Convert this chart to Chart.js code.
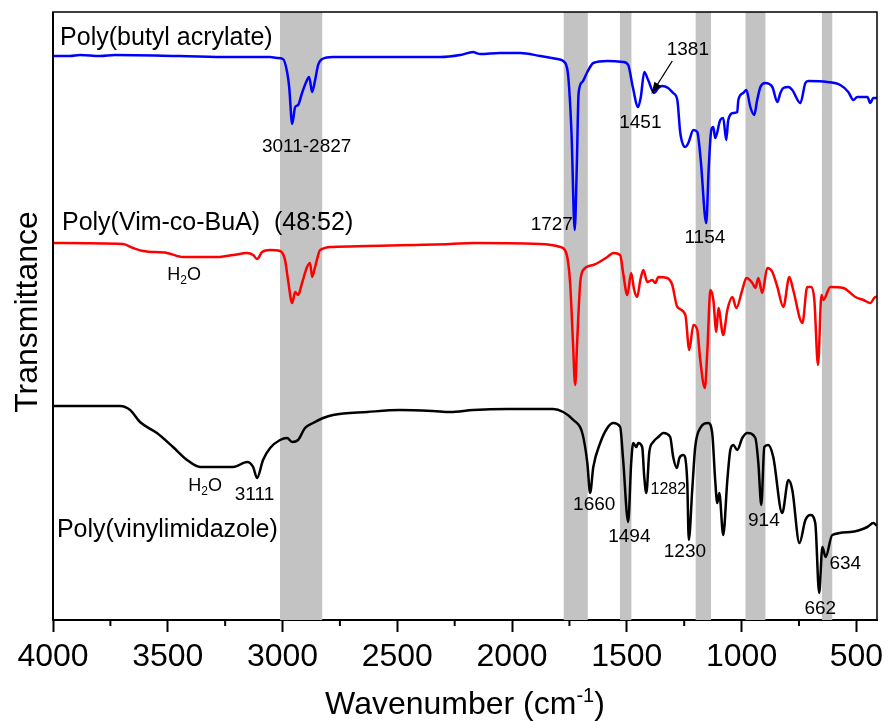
<!DOCTYPE html>
<html>
<head>
<meta charset="utf-8">
<title>FTIR</title>
<script src="https://cdn.jsdelivr.net/npm/chart.js@4.4.1/dist/chart.umd.min.js"></script>
<style>
  html, body { margin: 0; padding: 0; background: #fff; }
  canvas { display: block; }
</style>
</head>
<body>
<canvas id="chartFtir" width="888" height="721"></canvas>
<script>
// Número de onda (cm-1) e transmitância (unid. arbitrárias, curvas já deslocadas)
var pbaWn = [4000, 3926, 3882, 3795, 3730, 3446, 3229, 3054, 3024, 2998,
    2980, 2971, 2958, 2945, 2932, 2915, 2897, 2884, 2871, 2858,
    2845, 2827, 2780, 2631, 2444, 2313, 2226, 2169, 2156, 2139,
    2052, 1965, 1877, 1803, 1768, 1755, 1741, 1727, 1718, 1710,
    1694, 1672, 1646, 1585, 1516, 1494, 1474, 1451, 1439, 1424,
    1407, 1381, 1363, 1346, 1320, 1298, 1280, 1267, 1245, 1232,
    1210, 1193, 1178, 1154, 1143, 1132, 1123, 1115, 1093, 1080,
    1067, 1058, 1036, 1019, 1014, 993, 979, 962, 945, 932,
    918, 897, 866, 844, 831, 818, 796, 779, 744, 722,
    709, 626, 570, 535, 513, 496, 452, 439, 426, 410];
var pbaT = [564, 564, 565, 564, 565, 564, 563, 563, 562, 561,
    548, 533, 496, 513, 515, 527, 538, 543, 528, 540,
    555, 561, 563, 563, 563, 563, 565, 568, 567, 566,
    567, 567, 564, 561, 557, 543, 487, 390, 453, 527,
    538, 548, 557, 559, 558, 555, 533, 513, 523, 548,
    540, 527, 532, 534, 532, 527, 520, 487, 473, 477,
    490, 488, 460, 397, 453, 490, 493, 482, 500, 502,
    480, 500, 507, 508, 520, 527, 530, 513, 505, 520,
    533, 537, 533, 518, 527, 532, 533, 530, 517, 537,
    539, 538, 535, 528, 520, 523, 523, 517, 522, 522];

var copoWn = [4000, 3695, 3651, 3608, 3503, 3433, 3359, 3285, 3215, 3154,
    3128, 3111, 3089, 3054, 3011, 2989, 2976, 2958, 2945, 2932,
    2915, 2893, 2880, 2871, 2858, 2836, 2780, 2631, 2270, 2169,
    1877, 1790, 1764, 1747, 1735, 1725, 1716, 1703, 1690, 1646,
    1585, 1559, 1529, 1516, 1498, 1481, 1468, 1455, 1441, 1428,
    1411, 1389, 1376, 1363, 1324, 1302, 1280, 1245, 1228, 1210,
    1193, 1180, 1160, 1149, 1136, 1123, 1110, 1101, 1080, 1062,
    1040, 1023, 997, 979, 953, 940, 927, 910, 888, 866,
    844, 818, 792, 775, 735, 714, 696, 683, 667, 652,
    644, 613, 557, 504, 469, 439, 417, 410];
var copoT = [377, 376, 372, 369, 367, 363, 363, 363, 365, 367,
    365, 361, 368, 370, 369, 360, 340, 317, 328, 325,
    337, 353, 357, 343, 353, 370, 373, 374, 376, 377,
    376, 373, 367, 337, 280, 235, 280, 337, 350, 355,
    363, 367, 365, 347, 325, 347, 330, 323, 340, 350,
    338, 340, 337, 343, 342, 335, 313, 305, 270, 295,
    290, 260, 232, 270, 330, 320, 288, 312, 285, 310,
    323, 312, 330, 342, 337, 332, 342, 327, 352, 348,
    333, 313, 343, 330, 297, 333, 333, 320, 255, 325,
    320, 333, 332, 323, 320, 317, 323, 323];

var pviWn = [4000, 3708, 3664, 3621, 3547, 3477, 3416, 3359, 3215, 3154,
    3128, 3111, 3085, 3054, 3011, 2980, 2958, 2932, 2902, 2867,
    2823, 2780, 2631, 2488, 2344, 2270, 2169, 2021, 1821, 1777,
    1733, 1694, 1672, 1660, 1646, 1616, 1585, 1559, 1529, 1516,
    1494, 1481, 1472, 1459, 1450, 1433, 1424, 1415, 1402, 1385,
    1363, 1341, 1311, 1298, 1282, 1271, 1254, 1237, 1230, 1215,
    1202, 1180, 1145, 1128, 1115, 1106, 1097, 1080, 1062, 1049,
    1036, 1019, 997, 975, 940, 927, 914, 901, 884, 862,
    823, 796, 779, 748, 722, 700, 679, 662, 648, 634,
    605, 526, 452, 426, 410];
var pviT = [214, 214, 210, 198, 187, 173, 160, 153, 153, 158,
    153, 142, 160, 172, 180, 182, 178, 180, 192, 197,
    202, 205, 208, 210, 209, 208, 210, 211, 211, 208,
    200, 187, 157, 127, 153, 177, 192, 197, 193, 160,
    98, 157, 177, 173, 177, 173, 143, 127, 168, 178,
    183, 187, 183, 163, 152, 162, 165, 140, 80, 130,
    173, 192, 197, 187, 140, 117, 127, 85, 140, 170,
    175, 170, 182, 187, 182, 157, 115, 173, 175, 163,
    107, 140, 130, 77, 100, 105, 97, 27, 73, 63,
    85, 88, 93, 97, 94];

// faixas cinzas (cm-1)
var faixas = [[3011, 2827], [1775, 1670], [1530, 1480], [1200, 1133], [983, 896], [650, 605]];

// nomes das amostras e rótulos dos picos
var amostras = [
    { txt: 'Poly(butyl acrylate)', wn: 3969, t: 582 },
    { txt: 'Poly(Vim-co-BuA)  (48:52)', wn: 3961, t: 397 },
    { txt: 'Poly(vinylimidazole)', wn: 3983, t: 90 }
];
var picos = [
    { txt: '3011-2827', wn: 2895, t: 473, tam: 19 },
    { txt: '1727', wn: 1827, t: 395, tam: 19 },
    { txt: '1451', wn: 1441, t: 497, tam: 19 },
    { txt: '1381', wn: 1234, t: 570, tam: 19 },
    { txt: '1154', wn: 1160, t: 382, tam: 19 },
    { txt: '3111', wn: 3122, t: 125, tam: 19 },
    { txt: '1660', wn: 1642, t: 115, tam: 19 },
    { txt: '1494', wn: 1489, t: 83, tam: 19 },
    { txt: '1282', wn: 1319, t: 130, tam: 16 },
    { txt: '1230', wn: 1247, t: 68, tam: 19 },
    { txt: '914', wn: 903, t: 99, tam: 19 },
    { txt: '634', wn: 548, t: 56, tam: 19 },
    { txt: '662', wn: 657, t: 11, tam: 19 }
];
var aguas = [{ wn: 3429, t: 346 }, { wn: 3337, t: 135 }];
var seta1381 = { de: [1302, 559], para: [1393, 526] };

var FONTE = '"Liberation Sans", Arial, sans-serif';

function pontos(wn, t) {
    var out = [];
    for (var i = 0; i < wn.length; i++) out.push({ x: wn[i], y: t[i] });
    return out;
}

function serie(wn, t, cor) {
    return {
        data: pontos(wn, t),
        borderColor: cor,
        borderWidth: 2.5,
        pointRadius: 0,
        fill: false,
        cubicInterpolationMode: 'monotone'
    };
}

function escreveH2O(ctx, x, y) {
    ctx.font = '18px ' + FONTE;
    var wH = ctx.measureText('H').width, wO = ctx.measureText('O').width;
    ctx.font = '12px ' + FONTE;
    var w2 = ctx.measureText('2').width;
    var x0 = x - (wH + w2 + wO) / 2;
    ctx.textAlign = 'left';
    ctx.textBaseline = 'alphabetic';
    ctx.font = '18px ' + FONTE;
    ctx.fillText('H', x0, y + 6);
    ctx.font = '12px ' + FONTE;
    ctx.fillText('2', x0 + wH, y + 10);
    ctx.font = '18px ' + FONTE;
    ctx.fillText('O', x0 + wH + w2, y + 6);
}

// faixas atrás das curvas
var pluginFaixas = {
    id: 'faixas',
    beforeDatasetsDraw: function (chart) {
        var ctx = chart.ctx, a = chart.chartArea, sx = chart.scales.x;
        ctx.save();
        ctx.fillStyle = '#c3c3c3';
        faixas.forEach(function (f) {
            var x1 = sx.getPixelForValue(f[0]), x2 = sx.getPixelForValue(f[1]);
            ctx.fillRect(x1, a.top, x2 - x1, a.bottom - a.top);
        });
        ctx.restore();
    }
};

// moldura, ticks menores, títulos e rótulos
var pluginTextos = {
    id: 'textos',
    afterDraw: function (chart) {
        var ctx = chart.ctx, a = chart.chartArea, sx = chart.scales.x, sy = chart.scales.y;
        ctx.save();
        ctx.strokeStyle = '#000';
        ctx.lineWidth = 1.5;
        ctx.beginPath();
        ctx.moveTo(a.left, a.bottom);
        ctx.lineTo(a.left, a.top);
        ctx.lineTo(a.right, a.top);
        ctx.lineTo(a.right, a.bottom);
        ctx.stroke();
        ctx.lineWidth = 2;
        ctx.beginPath();
        ctx.moveTo(a.left, a.bottom);
        ctx.lineTo(a.left, a.top);
        ctx.stroke();

        ctx.lineWidth = 2;
        for (var v = 750; v < 4000; v += 500) {
            var px = sx.getPixelForValue(v);
            ctx.beginPath();
            ctx.moveTo(px, a.bottom);
            ctx.lineTo(px, a.bottom + 6);
            ctx.stroke();
        }

        ctx.fillStyle = '#000';
        // título eixo y
        ctx.font = '32px ' + FONTE;
        ctx.textAlign = 'center';
        ctx.textBaseline = 'alphabetic';
        ctx.save();
        ctx.translate(37, (a.top + a.bottom) / 2 - 4);
        ctx.rotate(-Math.PI / 2);
        ctx.fillText('Transmittance', 0, 0);
        ctx.restore();

        // título eixo x com sobrescrito
        var p1 = 'Wavenumber (cm', p2 = '-1', p3 = ')';
        ctx.font = '32px ' + FONTE;
        var w1 = ctx.measureText(p1).width, w3 = ctx.measureText(p3).width;
        ctx.font = '20px ' + FONTE;
        var w2 = ctx.measureText(p2).width;
        var x0 = (a.left + a.right) / 2 - (w1 + w2 + w3) / 2;
        var yb = a.bottom + 94;
        ctx.textAlign = 'left';
        ctx.font = '32px ' + FONTE;
        ctx.fillText(p1, x0, yb);
        ctx.font = '20px ' + FONTE;
        ctx.fillText(p2, x0 + w1, yb - 12);
        ctx.font = '32px ' + FONTE;
        ctx.fillText(p3, x0 + w1 + w2, yb);

        // nomes das amostras
        ctx.font = '25px ' + FONTE;
        ctx.textAlign = 'left';
        ctx.textBaseline = 'middle';
        amostras.forEach(function (s) {
            ctx.fillText(s.txt, sx.getPixelForValue(s.wn), sy.getPixelForValue(s.t));
        });

        // rótulos dos picos
        ctx.textAlign = 'center';
        picos.forEach(function (p) {
            ctx.font = p.tam + 'px ' + FONTE;
            ctx.fillText(p.txt, sx.getPixelForValue(p.wn), sy.getPixelForValue(p.t));
        });

        aguas.forEach(function (h) {
            escreveH2O(ctx, sx.getPixelForValue(h.wn), sy.getPixelForValue(h.t));
        });

        // seta do 1381
        var xa = sx.getPixelForValue(seta1381.de[0]), ya = sy.getPixelForValue(seta1381.de[1]);
        var xb = sx.getPixelForValue(seta1381.para[0]), yb2 = sy.getPixelForValue(seta1381.para[1]);
        var ang = Math.atan2(yb2 - ya, xb - xa);
        ctx.lineWidth = 1.3;
        ctx.beginPath();
        ctx.moveTo(xa, ya);
        ctx.lineTo(xb - 8 * Math.cos(ang), yb2 - 8 * Math.sin(ang));
        ctx.stroke();
        ctx.beginPath();
        ctx.moveTo(xb, yb2);
        ctx.lineTo(xb - 12 * Math.cos(ang) + 4 * Math.sin(ang), yb2 - 12 * Math.sin(ang) - 4 * Math.cos(ang));
        ctx.lineTo(xb - 12 * Math.cos(ang) - 4 * Math.sin(ang), yb2 - 12 * Math.sin(ang) + 4 * Math.cos(ang));
        ctx.closePath();
        ctx.fill();
        ctx.restore();
    }
};

var ctx = document.getElementById('chartFtir').getContext('2d');
var grafico = new Chart(ctx, {
    type: 'line',
    data: {
        datasets: [
            serie(pbaWn, pbaT, '#0000ff'),
            serie(copoWn, copoT, '#ff0000'),
            serie(pviWn, pviT, '#000000')
        ]
    },
    options: {
        responsive: false,
        animation: false,
        devicePixelRatio: 1,
        layout: { padding: { left: 53, right: 11, top: 12, bottom: 41 } },
        plugins: { legend: { display: false }, tooltip: { enabled: false } },
        scales: {
            x: {
                type: 'linear',
                reverse: true,
                min: 410,
                max: 4000,
                afterFit: function (s) { s.height = 60; s.paddingLeft = 0; s.paddingRight = 0; },
                border: { display: true, color: '#000', width: 2 },
                grid: {
                    drawOnChartArea: false,
                    drawTicks: true,
                    tickLength: 12,
                    tickWidth: 2,
                    tickColor: function (c) { return c.tick && c.tick.value % 500 === 0 ? '#000' : 'rgba(0,0,0,0)'; }
                },
                ticks: {
                    stepSize: 250,
                    includeBounds: false,
                    autoSkip: false,
                    maxRotation: 0,
                    padding: 6,
                    color: '#000',
                    font: { family: FONTE, size: 32 },
                    callback: function (v) { return v % 500 === 0 ? String(v) : ''; }
                }
            },
            y: {
                display: false,
                min: 0,
                max: 608
            }
        }
    },
    plugins: [pluginFaixas, pluginTextos]
});
</script>
</body>
</html>
